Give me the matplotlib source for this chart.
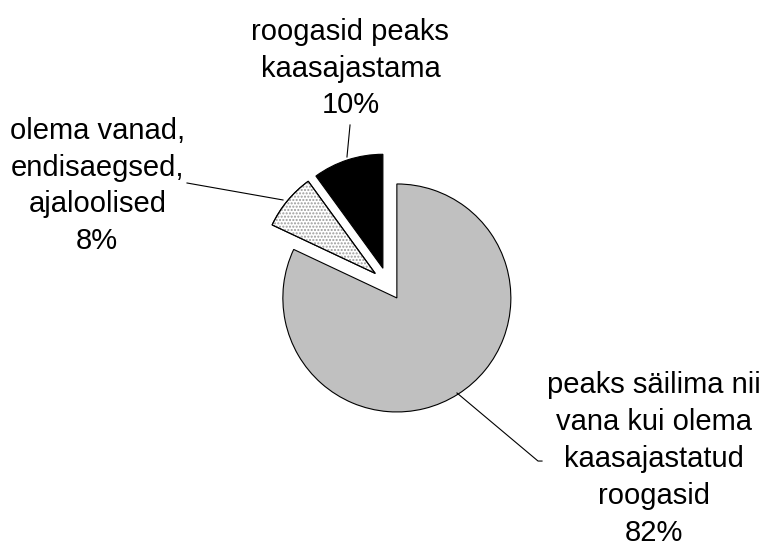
import matplotlib
matplotlib.use("Agg")
import matplotlib.pyplot as plt
from matplotlib.patches import Wedge

plt.rcParams['font.family'] = ['Liberation Sans', 'DejaVu Sans']

# andmed
values = [82, 8, 10]
labels = ["peaks säilima nii\nvana kui olema\nkaasajastatud\nroogasid\n82%",
          "olema vanad,\nendisaegsed,\najaloolised\n8%",
          "roogasid peaks\nkaasajastama\n10%"]
colors = ['#c0c0c0', 'white', 'black']
explode = [0.145, 0.145, 0.145]

# sildi kohad ja juhtjooned (andmekoordinaatides, raadius = 1)
label_pos = [(2.33, -1.535), (-2.55, 0.86), (-0.33, 1.89)]
leaders = [[(0.605, -0.956), (1.316, -1.553), (1.351, -1.553)],
           [(-1.763, 0.886), (-0.921, 0.737)],
           [(-0.333, 1.395), (-0.360, 1.114)]]

fig = plt.figure(figsize=(7.63, 5.49), dpi=100)
ax = fig.add_axes([0, 0, 1, 1])

wedges, _ = ax.pie(values, colors=colors, explode=explode, startangle=90,
                   counterclock=False, radius=1,
                   wedgeprops=dict(edgecolor='black', linewidth=0.8))

# täpiline muster väikesele sektorile
w = wedges[1]
dots = Wedge(w.center, w.r, w.theta1, w.theta2, facecolor='none',
             edgecolor='#9a9a9a', hatch='.....', linewidth=0, zorder=w.get_zorder() + 0.1)
ax.add_patch(dots)
outline = Wedge(w.center, w.r, w.theta1, w.theta2, facecolor='none',
                edgecolor='black', linewidth=0.8, zorder=w.get_zorder() + 0.2)
ax.add_patch(outline)

for txt, (x, y) in zip(labels, label_pos):
    ax.text(x, y, txt, ha='center', va='center', fontsize=21,
            multialignment='center', linespacing=1.4)

for pts in leaders:
    xs = [p[0] for p in pts]
    ys = [p[1] for p in pts]
    ax.plot(xs, ys, color='black', linewidth=0.8)

ax.set_xlim(-388 / 114, (763 - 388) / 114)
ax.set_ylim(-265 / 114, 284 / 114)
ax.set_aspect('auto')
ax.axis('off')

fig.savefig("out.png", dpi=100, facecolor='white')
